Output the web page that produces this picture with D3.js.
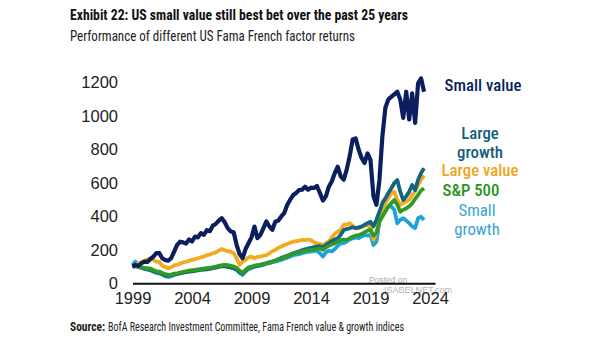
<!DOCTYPE html>
<html>
<head>
<meta charset="utf-8">
<script src="https://cdn.jsdelivr.net/npm/d3@7"></script>
<style>
  body { margin: 0; background: #fff; }
  svg { display: block; font-family: "Liberation Sans Narrow", "Roboto Condensed", "Open Sans", sans-serif; }
</style>
</head>
<body>
<svg></svg>
<script>
const width = 605;
const height = 341;

// quarterly grid, 1999 .. mid 2023
const dates = d3.range(0, 99).map(i => 1999 + i * 0.25);

const smallValue = [100,110,105,120,130,128,145,160,180,181,150,139,135,150,190,230,249,245,238,262,
  250,279,275,300,290,318,312,345,355,375,390,365,330,310,305,230,175,150,205,240,
  275,339,270,290,330,370,340,320,368,375,400,420,468,500,528,540,558,560,578,560,
  572,570,582,540,495,520,578,610,660,697,640,620,680,760,860,867,800,750,720,777,
  737,520,470,618,880,1050,1100,1116,1130,1146,1100,990,1146,980,1136,960,1196,1226,1146];

const largeGrowth = [100,102,98,92,88,84,80,72,66,62,55,48,45,48,54,57,60,64,67,70,
  72,75,78,80,82,84,86,90,94,98,102,101,98,95,90,82,68,58,75,90,
  96,102,106,110,115,120,125,130,136,144,152,158,165,172,180,186,192,198,203,208,
  212,216,220,222,215,228,240,252,262,270,290,319,325,329,335,329,335,339,350,359,
  368,340,380,428,480,508,540,568,600,618,548,498,520,548,588,558,620,660,688];

const largeValue = [100,110,118,128,135,142,150,140,130,128,105,98,90,95,108,110,118,125,129,135,
  140,145,150,155,160,168,172,180,185,195,205,198,192,189,180,150,110,129,140,155,
  160,150,158,159,165,168,180,192,200,212,220,229,235,242,249,252,255,260,258,262,
  259,245,239,235,229,240,250,275,295,310,320,349,352,359,345,330,329,340,345,349,
  330,260,300,380,430,480,510,540,548,500,468,480,488,500,528,550,588,620,645];

const sp500 = [100,105,98,95,92,90,88,80,72,70,62,55,50,52,58,60,64,68,72,76,
  78,80,83,85,88,90,92,96,100,104,108,110,108,105,100,92,75,62,80,95,
  100,105,108,110,115,120,125,130,135,142,150,155,162,170,177,182,186,190,195,199,
  200,203,205,209,200,215,225,232,240,250,259,262,259,270,278,285,289,295,305,315,
  319,285,300,370,400,430,460,480,498,470,428,440,448,460,478,505,528,555,568];

const smallGrowth = [110,130,105,95,88,82,78,70,62,60,52,42,38,42,50,55,60,64,68,72,
  75,78,82,84,86,88,90,94,98,102,105,103,99,95,90,80,62,50,70,85,
  92,98,102,106,110,118,120,126,130,135,140,148,152,160,168,172,175,180,185,188,
  190,192,195,180,160,185,195,190,205,225,239,240,250,262,269,275,270,280,289,285,
  290,229,250,368,410,440,458,460,440,359,380,389,375,360,340,330,389,398,379];

const yTicks = [0, 200, 400, 600, 800, 1000, 1200];
const xTicks = [1999, 2004, 2009, 2014, 2019, 2024];

const svg = d3.select('svg').attr('width', width).attr('height', height);

const xScale = d3.scaleLinear().domain([1999, 2024.42]).range([132.5, 435]);
const yScale = d3.scaleLinear().domain([0, 1200]).range([283.3, 82.7]);

// title block
svg.append('text')
  .attr('x', 70).attr('y', 20)
  .attr('font-size', 15.5).attr('font-weight', 'bold').attr('fill', '#111')
  .attr('textLength', 338).attr('lengthAdjust', 'spacingAndGlyphs')
  .text('Exhibit 22: US small value still best bet over the past 25 years');

svg.append('text')
  .attr('x', 70).attr('y', 41)
  .attr('font-size', 15).attr('fill', '#222')
  .attr('textLength', 285).attr('lengthAdjust', 'spacingAndGlyphs')
  .text('Performance of different US Fama French factor returns');

// watermark (under the axis labels)
svg.append('text').attr('x', 369).attr('y', 283).attr('font-size', 8.5)
  .attr('fill', '#aaa').attr('font-family', 'Liberation Sans').text('Posted on');
svg.append('text').attr('x', 384).attr('y', 293).attr('font-size', 9)
  .attr('fill', '#b3b3b3').attr('font-family', 'Liberation Sans').text('ISABELNET.com');

// axes
const xAxis = d3.axisBottom(xScale).tickValues(xTicks).tickSize(0).tickSizeOuter(0).tickPadding(9)
  .tickFormat(d3.format('d'));
const gx = svg.append('g')
  .attr('transform', 'translate(0,' + yScale(0) + ')')
  .call(xAxis);
gx.select('.domain').attr('stroke', '#111').attr('stroke-width', 2);
gx.selectAll('text').attr('font-size', 16.5).attr('fill', '#222').attr('font-family', null);

const yAxis = d3.axisLeft(yScale).tickValues(yTicks).tickSize(0).tickPadding(0)
  .tickFormat(d3.format('d'));
const gy = svg.append('g')
  .attr('transform', 'translate(118,0)')
  .call(yAxis);
gy.select('.domain').remove();
gy.selectAll('text').attr('font-size', 16.5).attr('fill', '#222').attr('font-family', null);

// lines
const series = [
  { name: 'Small growth', values: smallGrowth, color: '#1fa2dc', w: 3.8 },
  { name: 'Large value', values: largeValue, color: '#f2aa1f', w: 3.8 },
  { name: 'Large growth', values: largeGrowth, color: '#12647f', w: 3.8 },
  { name: 'S&P 500', values: sp500, color: '#2f9b23', w: 3.8 },
  { name: 'Small value', values: smallValue, color: '#0b1f5f', w: 4.2 }
];

const line = d3.line()
  .x((d, i) => xScale(dates[i]))
  .y(d => yScale(d));

svg.selectAll('path.series')
  .data(series)
  .enter()
  .append('path')
  .attr('class', 'series')
  .attr('d', d => line(d.values))
  .attr('fill', 'none')
  .attr('stroke', d => d.color)
  .attr('stroke-width', d => d.w)
  .attr('stroke-linejoin', 'round');

// series labels, one text per line
const labels = [
  { text: 'Small value', x: 483, y: 91, color: '#0b1f5f', weight: 500 },
  { text: 'Large', x: 480, y: 139, color: '#12607c', weight: 500 },
  { text: 'growth', x: 480, y: 157.5, color: '#12607c', weight: 500 },
  { text: 'Large value', x: 480, y: 176, color: '#f0a51e', weight: 500 },
  { text: 'S&P 500', x: 471, y: 195.5, color: '#2a9421', weight: 500 },
  { text: 'Small', x: 477, y: 216, color: '#3aa3d8', weight: 400 },
  { text: 'growth', x: 477, y: 234.5, color: '#3aa3d8', weight: 400 }
];

svg.selectAll('text.label')
  .data(labels)
  .enter()
  .append('text')
  .attr('class', 'label')
  .attr('x', d => d.x)
  .attr('y', d => d.y)
  .attr('text-anchor', 'middle')
  .attr('font-size', 16.8)
  .attr('font-weight', d => d.weight)
  .attr('fill', d => d.color)
  .text(d => d.text);

// source
svg.append('text').attr('x', 70).attr('y', 331).attr('font-size', 12.5).attr('fill', '#222')
  .attr('font-weight', 'bold').attr('textLength', 35).attr('lengthAdjust', 'spacingAndGlyphs')
  .text('Source:');
svg.append('text').attr('x', 108).attr('y', 331).attr('font-size', 12.5).attr('fill', '#222')
  .attr('textLength', 296).attr('lengthAdjust', 'spacingAndGlyphs')
  .text('BofA Research Investment Committee, Fama French value & growth indices');
</script>
</body>
</html>
